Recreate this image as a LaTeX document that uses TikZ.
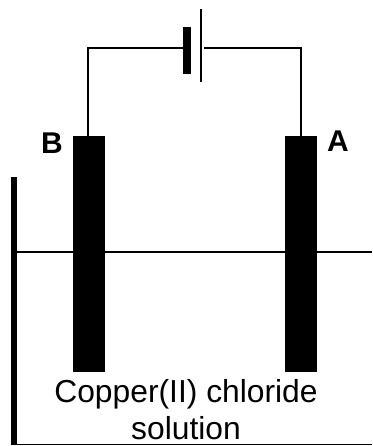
\documentclass[tikz,border=0pt]{standalone}
\usepackage{fontspec}
\setmainfont{Liberation Sans}
\usepackage{tikz}
\usetikzlibrary{positioning}
\tikzset{
    %Define style for electrodes
    electrode/.style={
           rectangle,
           fill=black,
           inner sep=0pt,
           minimum width=32pt,
           minimum height=235.5pt},
    %Define style for cell plates
    plate/.style={
           rectangle,
           fill=black,
           inner sep=0pt},
    %Define style for labels
    letter/.style={
           inner sep=0pt,
           anchor=base,
           font=\bfseries\fontsize{30}{30}\selectfont},
    caption/.style={
           inner sep=0pt,
           anchor=base,
           font=\fontsize{31.8}{37}\selectfont},
    % Define wire style
    wire/.style={
           line width=2pt,
           line join=miter}
}
\begin{document}
\begin{tikzpicture}[x=1pt,y=1pt]
 \useasboundingbox (0,0) rectangle (372,446);
 %nodes
 \node[electrode](elecB) at (89,192.2){};
 \node[electrode](elecA) at (301,192.2){};
 \node[plate,minimum width=7.5pt,minimum height=47pt](neg) at (186.8,395.5){};
 \node[plate,minimum width=2.4pt,minimum height=73pt](pos) at (201,400.5){};
 \node[letter](labB) at (52,292){B};
 \node[letter](labA) at (338,294){A};
 \node[caption](soln) at (186,43){Copper(II) chloride};
 \node[caption](soln2) at (186,6){solution};
 \coordinate (gap) at (204,398);
 \coordinate (bend) at (87.5,398);
 %tank
 \coordinate (walltop) at (14,269);
 \coordinate (wallend) at (14,0.5);
 \coordinate (liquidL) at (14,194);
 \coordinate (liquidR) at (372,194);
 \coordinate (floorL) at (14,1.5);
 \coordinate (floorR) at (372,1.5);
 \draw[line width=5.6pt] (walltop) -- (wallend);
 \draw[line width=1.5pt] (liquidL) -- (liquidR);
 \draw[line width=1.5pt] (floorL) -- (floorR);
 %wires
 \draw[wire] (bend |- elecB.north) -- (bend) -- (neg.west |- bend);
 \draw[wire] (elecA.north) |- (gap);
\end{tikzpicture}
\end{document}
